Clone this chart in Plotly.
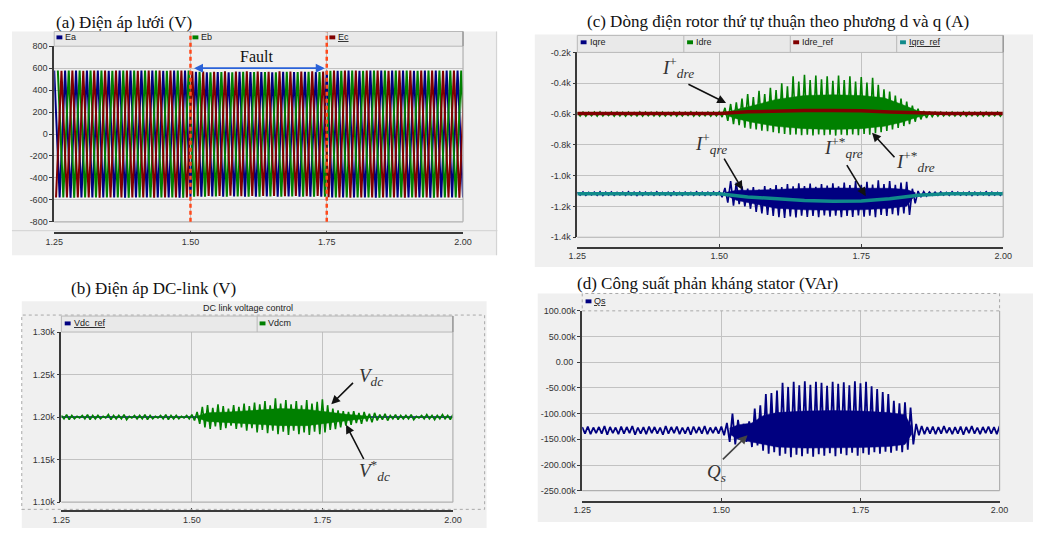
import numpy as np
import plotly.graph_objects as go

W, H = 1042, 533

# ---------------------------------------------------------------- data
T_START, T_END = 1.25, 2.00
X_TICKS = [1.25, 1.50, 1.75, 2.00]
X_LABELS = ["1.25", "1.50", "1.75", "2.00"]

# (a) grid voltage: peak of each half cycle (V), one peak every 10 ms (50 Hz)
A_YTICKS = [-800, -600, -400, -200, 0, 200, 400, 600, 800]
A_YLABELS = ["-800", "-600", "-400", "-200", "0", "200", "400", "600", "800"]
GRID_PEAK_V = [
    578, 577, 578, 579, 578, 577, 578, 578, 579, 578, 577, 578, 578,
    579, 578, 577, 578, 578, 579, 578, 577, 578, 578, 579, 578,
    572, 566, 570, 563, 568, 565, 571, 562, 569, 566, 572, 564, 570,
    565, 568, 563, 571, 566, 569, 564, 570, 567, 572, 565, 570, 575,
    578, 577, 578, 579, 578, 577, 578, 578, 579, 578, 577, 578, 578,
    579, 578, 577, 578, 578, 579, 578, 577, 578, 578, 579, 578,
]
FAULT_T = [1.50, 1.75]

# (b) DC-link voltage (V): maxima at 1.25, 1.26, ... and minima at 1.255, 1.265, ...
B_YTICKS = [1100, 1150, 1200, 1250, 1300]
B_YLABELS = ["1.10k", "1.15k", "1.20k", "1.25k", "1.30k"]
VDC_REF_T = [1.25, 2.00]
VDC_REF = [1200, 1200]
VDCM_UP = [
    1202, 1203, 1202, 1201, 1202, 1203, 1202, 1202, 1201, 1203,
    1202, 1202, 1203, 1201, 1202, 1202, 1203, 1202, 1201, 1202,
    1203, 1202, 1202, 1201, 1202,
    1203, 1206, 1212, 1214, 1211, 1215, 1213, 1210, 1214, 1212,
    1216, 1213, 1217, 1215, 1219, 1214, 1222, 1216, 1220, 1215,
    1219, 1214, 1220, 1216, 1218, 1221, 1214, 1210, 1208, 1207,
    1206, 1207, 1205, 1206, 1204, 1205, 1203, 1204, 1202,
    1203, 1202, 1202, 1203, 1201, 1202, 1203, 1202, 1202, 1203, 1202, 1203,
]
VDCM_LO = [
    1198, 1197, 1198, 1199, 1198, 1197, 1198, 1198, 1199, 1197,
    1198, 1198, 1197, 1199, 1198, 1198, 1197, 1198, 1199, 1198,
    1197, 1198, 1198, 1199, 1198,
    1196, 1192, 1188, 1186, 1189, 1185, 1187, 1190, 1186, 1188,
    1184, 1187, 1182, 1185, 1181, 1184, 1180, 1183, 1179, 1184,
    1180, 1182, 1179, 1183, 1180, 1182, 1185, 1186, 1188, 1190,
    1191, 1193, 1192, 1195, 1194, 1196, 1197, 1196, 1198,
    1197, 1198, 1198, 1197, 1199, 1198, 1198, 1197, 1198, 1198, 1197,
]
# dense body of the Vdcm oscillation (edges of the solid region)
VDCM_CORE_T = [1.51, 1.53, 1.57, 1.62, 1.67, 1.72, 1.76, 1.80, 1.84]
VDCM_CORE_HI = [1201, 1205, 1206, 1208, 1210, 1209, 1206, 1203, 1201]
VDCM_CORE_LO = [1199, 1195, 1194, 1192, 1190, 1190, 1193, 1196, 1199]

# (c) positive-sequence rotor currents (A)
C_YTICKS = [-1400, -1200, -1000, -800, -600, -400, -200]
C_YLABELS = ["-1.4k", "-1.2k", "-1.0k", "-0.8k", "-0.6k", "-0.4k", "-0.2k"]
IDRE_UP = [
    -590, -587, -589, -588, -586, -590, -588, -587, -589, -588,
    -590, -586, -588, -589, -587, -588, -590, -587, -588, -589,
    -586, -588, -590, -587, -588,
    -585, -560, -535, -525, -500, -470, -490, -450, -470, -430,
    -445, -400, -420, -355, -390, -345, -380, -350, -375, -355,
    -385, -350, -380, -355, -390, -360, -395, -365, -410, -440,
    -455, -480, -500, -520, -545, -565, -580, -585, -588,
    -587, -589, -588, -590, -586, -588, -589, -587, -588, -590, -587, -588,
]
IDRE_LO = [
    -612, -614, -611, -613, -612, -610, -613, -612, -614, -611,
    -612, -613, -611, -612, -614, -612, -611, -613, -612, -610,
    -613, -612, -611, -613, -612,
    -620, -645, -665, -672, -688, -695, -700, -708, -712, -718,
    -725, -730, -735, -732, -738, -735, -740, -733, -738, -735,
    -740, -734, -738, -733, -737, -730, -735, -725, -718, -710,
    -700, -690, -678, -665, -650, -635, -625, -618, -614,
    -612, -611, -613, -612, -614, -611, -612, -613, -612, -611, -613,
]
IDRE_CORE_T = [1.51, 1.53, 1.56, 1.60, 1.65, 1.70, 1.75, 1.79, 1.82, 1.85, 1.87]
IDRE_CORE_HI = [-595, -570, -545, -505, -480, -475, -480, -495, -535, -580, -596]
IDRE_CORE_LO = [-605, -630, -655, -680, -695, -700, -695, -680, -655, -620, -604]

IQRE_UP = [
    -1108, -1106, -1109, -1107, -1105, -1108, -1106, -1109, -1107, -1104,
    -1108, -1106, -1107, -1109, -1105, -1108, -1107, -1106, -1109, -1107,
    -1108, -1105, -1107, -1108, -1106,
    -1105, -1080, -1035, -1045, -1070, -1085, -1075, -1090, -1068, -1080,
    -1062, -1075, -1055, -1070, -1050, -1068, -1052, -1072, -1055, -1065,
    -1050, -1070, -1045, -1062, -1035, -1060, -1040, -1058, -1030, -1055,
    -1035, -1060, -1045, -1040, -1085, -1100, -1104, -1106, -1107,
    -1106, -1108, -1105, -1107, -1109, -1106, -1107, -1108, -1105, -1107, -1108, -1106,
]
IQRE_LO = [
    -1126, -1128, -1125, -1127, -1129, -1126, -1128, -1125, -1127, -1126,
    -1129, -1127, -1125, -1128, -1126, -1127, -1129, -1126, -1128, -1125,
    -1127, -1126, -1128, -1127, -1126,
    -1140, -1175, -1195, -1185, -1200, -1215, -1235, -1245, -1255, -1262,
    -1270, -1275, -1265, -1272, -1260, -1268, -1262, -1270, -1258, -1266,
    -1260, -1270, -1262, -1268, -1258, -1266, -1260, -1270, -1255, -1262,
    -1250, -1258, -1245, -1255, -1180, -1140, -1132, -1128, -1127,
    -1126, -1128, -1125, -1127, -1126, -1129, -1127, -1125, -1128, -1126, -1127,
]
IQRE_CORE_T = [1.51, 1.53, 1.56, 1.60, 1.65, 1.70, 1.75, 1.80, 1.83, 1.845]
IQRE_CORE_HI = [-1110, -1095, -1095, -1088, -1082, -1080, -1080, -1082, -1090, -1110]
IQRE_CORE_LO = [-1124, -1160, -1185, -1212, -1222, -1225, -1222, -1212, -1198, -1125]

REF_T = [1.25, 1.30, 1.35, 1.40, 1.45, 1.50, 1.55, 1.60,
         1.65, 1.70, 1.75, 1.80, 1.85, 1.90, 1.95, 2.00]
IDRE_REF = [-597, -597, -596, -597, -597, -596, -586, -580,
            -578, -578, -579, -587, -594, -596, -597, -597]
IQRE_REF = [-1117, -1117, -1117, -1117, -1117, -1118, -1138, -1152,
            -1162, -1166, -1165, -1150, -1128, -1118, -1117, -1117]

# (d) stator reactive power (kVAr)
D_YTICKS = [-250000, -200000, -150000, -100000, -50000, 0, 50000, 100000]
D_YLABELS = ["-250.00k", "-200.00k", "-150.00k", "-100.00k", "-50.00k",
             "0.00 ", "50.00k", "100.00k"]
QS_UP_K = [
    -126, -125, -127, -126, -124, -126, -127, -125, -126, -124,
    -127, -126, -125, -126, -127, -124, -126, -125, -127, -126,
    -125, -126, -124, -127, -126,
    -125, -118, -100, -112, -120, -115, -90, -84, -62, -60,
    -55, -40, -48, -38, -45, -37, -44, -38, -40, -46,
    -38, -42, -39, -45, -37, -41, -38, -47, -52, -58,
    -62, -75, -80, -78, -88, -120, -124, -126, -125,
    -126, -124, -127, -126, -125, -126, -124, -127, -126, -125, -126, -124,
]
QS_LO_K = [
    -139, -140, -138, -139, -141, -138, -140, -139, -138, -141,
    -139, -140, -138, -139, -141, -139, -138, -140, -139, -141,
    -138, -139, -140, -138, -139,
    -142, -155, -160, -150, -155, -165, -162, -172, -178, -175,
    -182, -178, -185, -180, -183, -178, -184, -179, -182, -177,
    -183, -178, -181, -176, -182, -177, -180, -175, -178, -174,
    -176, -172, -175, -170, -160, -142, -140, -139, -140,
    -139, -138, -140, -139, -141, -138, -139, -140, -138, -139, -140,
]
QS_CORE_T = [1.515, 1.53, 1.555, 1.575, 1.60, 1.65, 1.70, 1.75, 1.80, 1.83, 1.842]
QS_CORE_HI_K = [-128, -122, -118, -104, -98, -95, -94, -95, -98, -102, -126]
QS_CORE_LO_K = [-140, -150, -155, -160, -165, -167, -167, -166, -164, -160, -140]

# ---------------------------------------------------------------- style
NAVY, GREEN, DRED, TEAL = "#000080", "#008000", "#800000", "#108a8a"
AXC = "#3a3a3a"
GRIDC = "#c2c2c2"
PANEL = "#f0f0f0"
BAR = "#e9e9e9"
TICKFONT = dict(family="Liberation Sans, Arial, sans-serif", size=9, color="#333333")
LEGFONT = dict(family="Liberation Sans, Arial, sans-serif", size=9, color="#222222")
TITLEFONT = dict(family="Liberation Serif, Times New Roman, serif", size=17, color="#111111")
MATHFONT = dict(family="Liberation Serif, Times New Roman, serif", size=19, color="#333333")


def PX(x):
    return x / W


def PY(y):
    return 1 - y / H


def zigzag(up, lo):
    t_up = np.linspace(T_START, T_END, len(up))
    half = (t_up[1] - t_up[0]) / 2
    xs, ys = [], []
    for i, v in enumerate(up):
        xs.append(t_up[i]); ys.append(v)
        if i < len(lo):
            xs.append(t_up[i] + half); ys.append(lo[i])
    return xs, ys


def band(t, hi, lo, scale=1.0):
    xs = list(t) + list(t)[::-1]
    ys = [v * scale for v in hi] + [v * scale for v in lo][::-1]
    return xs, ys


def phase(peaks, shift, first_sign):
    t = np.linspace(T_START, T_END, len(peaks)) + shift
    ys = [p * first_sign * (1 if i % 2 == 0 else -1) for i, p in enumerate(peaks)]
    return t, ys


fig = go.Figure()


def add_band(t, hi, lo, color, xa, ya, scale=1.0):
    bx, by = band(t, hi, lo, scale)
    fig.add_trace(go.Scatter(x=bx, y=by, mode="lines", fill="toself", fillcolor=color,
                             line=dict(color=color, width=0.5), xaxis=xa, yaxis=ya,
                             hoverinfo="skip"))


# (a) three phases
for shift, sign, col in [(0.0, 1, NAVY), (0.00667, 1, GREEN), (0.00333, -1, DRED)]:
    t, v = phase(GRID_PEAK_V, shift, sign)
    fig.add_trace(go.Scatter(x=t, y=v, mode="lines", line=dict(color=col, width=2.0),
                             xaxis="x", yaxis="y", hoverinfo="skip"))

# (b)
fig.add_trace(go.Scatter(x=VDC_REF_T, y=VDC_REF, mode="lines", line=dict(color=NAVY, width=1.5),
                         xaxis="x2", yaxis="y2"))
add_band(VDCM_CORE_T, VDCM_CORE_HI, VDCM_CORE_LO, GREEN, "x2", "y2")
xs, ys = zigzag(VDCM_UP, VDCM_LO)
fig.add_trace(go.Scatter(x=xs, y=ys, mode="lines", line=dict(color=GREEN, width=1.6),
                         xaxis="x2", yaxis="y2"))

# (c)
add_band(IDRE_CORE_T, IDRE_CORE_HI, IDRE_CORE_LO, GREEN, "x3", "y3")
xs, ys = zigzag(IDRE_UP, IDRE_LO)
fig.add_trace(go.Scatter(x=xs, y=ys, mode="lines", line=dict(color=GREEN, width=1.6),
                         xaxis="x3", yaxis="y3"))
fig.add_trace(go.Scatter(x=REF_T, y=IDRE_REF, mode="lines", line=dict(color=DRED, width=3.5),
                         xaxis="x3", yaxis="y3"))
add_band(IQRE_CORE_T, IQRE_CORE_HI, IQRE_CORE_LO, NAVY, "x3", "y3")
xs, ys = zigzag(IQRE_UP, IQRE_LO)
fig.add_trace(go.Scatter(x=xs, y=ys, mode="lines", line=dict(color=NAVY, width=1.6),
                         xaxis="x3", yaxis="y3"))
fig.add_trace(go.Scatter(x=REF_T, y=IQRE_REF, mode="lines", line=dict(color=TEAL, width=3.5),
                         xaxis="x3", yaxis="y3"))

# (d)
add_band(QS_CORE_T, QS_CORE_HI_K, QS_CORE_LO_K, NAVY, "x4", "y4", scale=1000)
xs, ys = zigzag(QS_UP_K, QS_LO_K)
fig.add_trace(go.Scatter(x=xs, y=[v * 1000 for v in ys], mode="lines",
                         line=dict(color=NAVY, width=1.8), xaxis="x4", yaxis="y4"))


def make_x(x0, x1, line_y):
    return dict(domain=[PX(x0), PX(x1)], range=[T_START, T_END], anchor="free",
                position=PY(line_y), tickvals=X_TICKS, ticktext=X_LABELS,
                ticks="inside", ticklen=3, tickcolor=AXC, showline=True, linecolor=AXC,
                linewidth=1.5, showgrid=True, gridcolor=GRIDC, gridwidth=1, zeroline=False,
                tickfont=TICKFONT, fixedrange=True)


def make_y(y_top, y_bot, rng, vals, labels, xname):
    return dict(domain=[PY(y_bot), PY(y_top)], range=rng, anchor=xname,
                tickvals=vals, ticktext=labels, ticks="outside", ticklen=3, tickcolor=AXC,
                showline=True, linecolor=AXC, linewidth=1.5, showgrid=True,
                gridcolor=GRIDC, gridwidth=1, zeroline=False, tickfont=TICKFONT,
                fixedrange=True)


# plot areas (px): x0, x1, y_top, y_bot, axis-line y
A = (46, 462, 42, 221, 232.7)
B = (53.3, 451.7, 333.3, 506.7, 516)
C = (578.3, 1011.7, 48.3, 236.7, 247.3)
D = (583.3, 1008, 311.7, 495, 506)

layout = dict(
    width=W, height=H, margin=dict(l=0, r=0, t=0, b=0),
    paper_bgcolor="white", plot_bgcolor="white", showlegend=False,
    xaxis=make_x(A[0], A[1], A[4]),
    yaxis=make_y(A[2], A[3], [-800, 800], A_YTICKS, A_YLABELS, "x"),
    xaxis2=make_x(B[0], B[1], B[4]),
    yaxis2=make_y(B[2], B[3], [1100, 1300], B_YTICKS, B_YLABELS, "x2"),
    xaxis3=make_x(C[0], C[1], C[4]),
    yaxis3=make_y(C[2], C[3], [-1400, -200], C_YTICKS, C_YLABELS, "x3"),
    xaxis4=make_x(D[0], D[1], D[4]),
    yaxis4=make_y(D[2], D[3], [-250000, 100000], D_YTICKS, D_YLABELS, "x4"),
)
fig.update_layout(**layout)

shapes = []
annots = []


def rect(x0, y0, x1, y1, fill=None, line=None, lw=1, dash=None, layer="above"):
    d = dict(type="rect", xref="paper", yref="paper", x0=PX(x0), x1=PX(x1),
             y0=PY(y1), y1=PY(y0), layer=layer, line=dict(width=0))
    if fill:
        d["fillcolor"] = fill
    if line:
        d["line"] = dict(color=line, width=lw, dash=dash or "solid")
    shapes.append(d)


def hline(x0, x1, y, color, lw=1, dash=None, layer="above"):
    shapes.append(dict(type="line", xref="paper", yref="paper", x0=PX(x0), x1=PX(x1),
                       y0=PY(y), y1=PY(y), layer=layer,
                       line=dict(color=color, width=lw, dash=dash or "solid")))


def vline(x, y0, y1, color, lw=1, dash=None, layer="above"):
    shapes.append(dict(type="line", xref="paper", yref="paper", x0=PX(x), x1=PX(x),
                       y0=PY(y0), y1=PY(y1), layer=layer,
                       line=dict(color=color, width=lw, dash=dash or "solid")))


def text(x, y, s, font, xanchor="left"):
    annots.append(dict(xref="paper", yref="paper", x=PX(x), y=PY(y), text=s, font=font,
                       showarrow=False, xanchor=xanchor, yanchor="middle", borderpad=0))


def legend_item(x, y, label, color, underline=False):
    rect(x, y - 2, x + 6, y + 2, fill=color, layer="above")
    s = f'<span style="text-decoration:underline">{label}</span>' if underline else label
    text(x + 8, y, s, LEGFONT)


def plot_frame(P):
    hline(P[0], P[1], P[3], "#b0b0b0", 1.2)
    vline(P[1], P[2], P[3], "#b0b0b0", 1.2)


# ---- panel (a)
rect(3, 27, 497, 255, fill=PANEL, layer="below")
hline(3, 497, 230, "#d2d2d2", 1)
vline(496, 27, 255, "#d2d2d2", 1)
rect(A[0], 27, A[1], A[2], fill=BAR, line="#b8b8b8", lw=1)
for xd in (185, 324):
    vline(xd, 27, A[2], "#b8b8b8", 1)
vline(A[1], 27, A[2], "#9a9a9a", 1.5)
plot_frame(A)
legend_item(48.3, 33, "Ea", NAVY)
legend_item(186.7, 33, "Eb", GREEN)
legend_item(326, 33, "Ec", DRED, underline=True)
text(47, 18, "(a) Điện áp lưới (V)", TITLEFONT)
for tf in FAULT_T:
    shapes.append(dict(type="line", xref="x", yref="paper", x0=tf, x1=tf,
                       y0=PY(221), y1=PY(28), layer="above",
                       line=dict(color="#ff4a1c", width=2.5, dash="4px,3px")))
annots.append(dict(x=FAULT_T[1], y=600, ax=FAULT_T[0], ay=600, xref="x", yref="y",
                   axref="x", ayref="y", text="", showarrow=True, arrowhead=2,
                   arrowside="end+start", arrowsize=1, arrowwidth=1.8,
                   arrowcolor="#2a62d8", standoff=2, startstandoff=2))
annots.append(dict(x=1.622, y=705, xref="x", yref="y", text="Fault", showarrow=False,
                   font=dict(family="Liberation Serif, Times New Roman, serif", size=16,
                             color="#111111")))

# ---- panel (b)
rect(13, 302, 486, 533, fill=PANEL, layer="below")
rect(13, 316, 484, 514, line="#a8a8a8", lw=1, dash="dot")
text(243, 309, "DC link voltage control", LEGFONT, xanchor="center")
rect(B[0], 317, B[1], B[2], fill=BAR, line="#b8b8b8", lw=1)
vline(252.5, 317, B[2], "#b8b8b8", 1)
vline(B[1], 317, B[2], "#9a9a9a", 1.5)
plot_frame(B)
legend_item(56.7, 324.5, "Vdc_ref", NAVY, underline=True)
legend_item(255, 324.5, "Vdcm", GREEN)
text(62, 289, "(b) Điện áp DC-link (V)", TITLEFONT)

# ---- panel (c)
rect(535, 30, 1042, 267, fill=PANEL, layer="below")
rect(C[0], 31, C[1], C[2], fill=BAR, line="#b8b8b8", lw=1)
for xd in (686.7, 795, 903.3):
    vline(xd, 31, C[2], "#b8b8b8", 1)
vline(C[1], 31, C[2], "#9a9a9a", 1.5)
plot_frame(C)
legend_item(581.7, 38, "Iqre", NAVY)
legend_item(690, 38, "Idre", GREEN)
legend_item(798, 38, "Idre_ref", DRED)
legend_item(906.7, 38, "Iqre_ref", TEAL, underline=True)
text(783, 17, "(c) Dòng điện rotor thứ tự thuận theo phương d và q (A)", TITLEFONT,
     xanchor="center")

# ---- panel (d)
rect(538, 294, 1042, 527, fill=PANEL, layer="below")
rect(D[0], 294, D[1], D[2], line="#a8a8a8", lw=1, dash="dot")
plot_frame(D)
legend_item(586.7, 302, "Qs", NAVY, underline=True)
text(577, 284, "(d) Công suất phản kháng stator (VAr)", TITLEFONT)


def arrow(xr, yr, tail, tip, color="#111111"):
    annots.append(dict(x=tip[0], y=tip[1], ax=tail[0], ay=tail[1], xref=xr, yref=yr,
                       axref=xr, ayref=yr, text="", showarrow=True, arrowhead=2,
                       arrowsize=1.1, arrowwidth=1.6, arrowcolor=color,
                       standoff=0, startstandoff=0))


def label(xr, yr, x, y, s):
    annots.append(dict(x=x, y=y, xref=xr, yref=yr, text=s, showarrow=False,
                       font=MATHFONT, xanchor="center", yanchor="middle"))


# (b) annotations
label("x2", "y2", 1.843, 1247, "<i>V<sub>dc</sub></i>")
arrow("x2", "y2", (1.8115, 1242), (1.767, 1215))
label("x2", "y2", 1.850, 1137, "<i>V</i><sup>*</sup><sub><i>dc</i></sub>")
arrow("x2", "y2", (1.8306, 1149), (1.7954, 1191))

# (c) annotations
label("x3", "y3", 1.428, -300, "<i>I</i><sup>+</sup><sub><i>dre</i></sub>")
arrow("x3", "y3", (1.443, -402), (1.512, -529))
label("x3", "y3", 1.485, -790, "<i>I</i><sup>+</sup><sub><i>qre</i></sub>")
arrow("x3", "y3", (1.507, -880), (1.541, -1092))
label("x3", "y3", 1.718, -820, "<i>I</i><sup>+*</sup><sub><i>qre</i></sub>")
arrow("x3", "y3", (1.723, -922), (1.758, -1134))
label("x3", "y3", 1.845, -905, "<i>I</i><sup>+*</sup><sub><i>dre</i></sub>")
arrow("x3", "y3", (1.811, -890), (1.769, -722))

# (d) annotations
label("x4", "y4", 1.492, -215000, "<i>Q<sub>s</sub></i>")
arrow("x4", "y4", (1.500, -192000), (1.547, -142000), color="#444444")

fig.update_layout(shapes=shapes, annotations=annots)
fig.write_html("out.html")
